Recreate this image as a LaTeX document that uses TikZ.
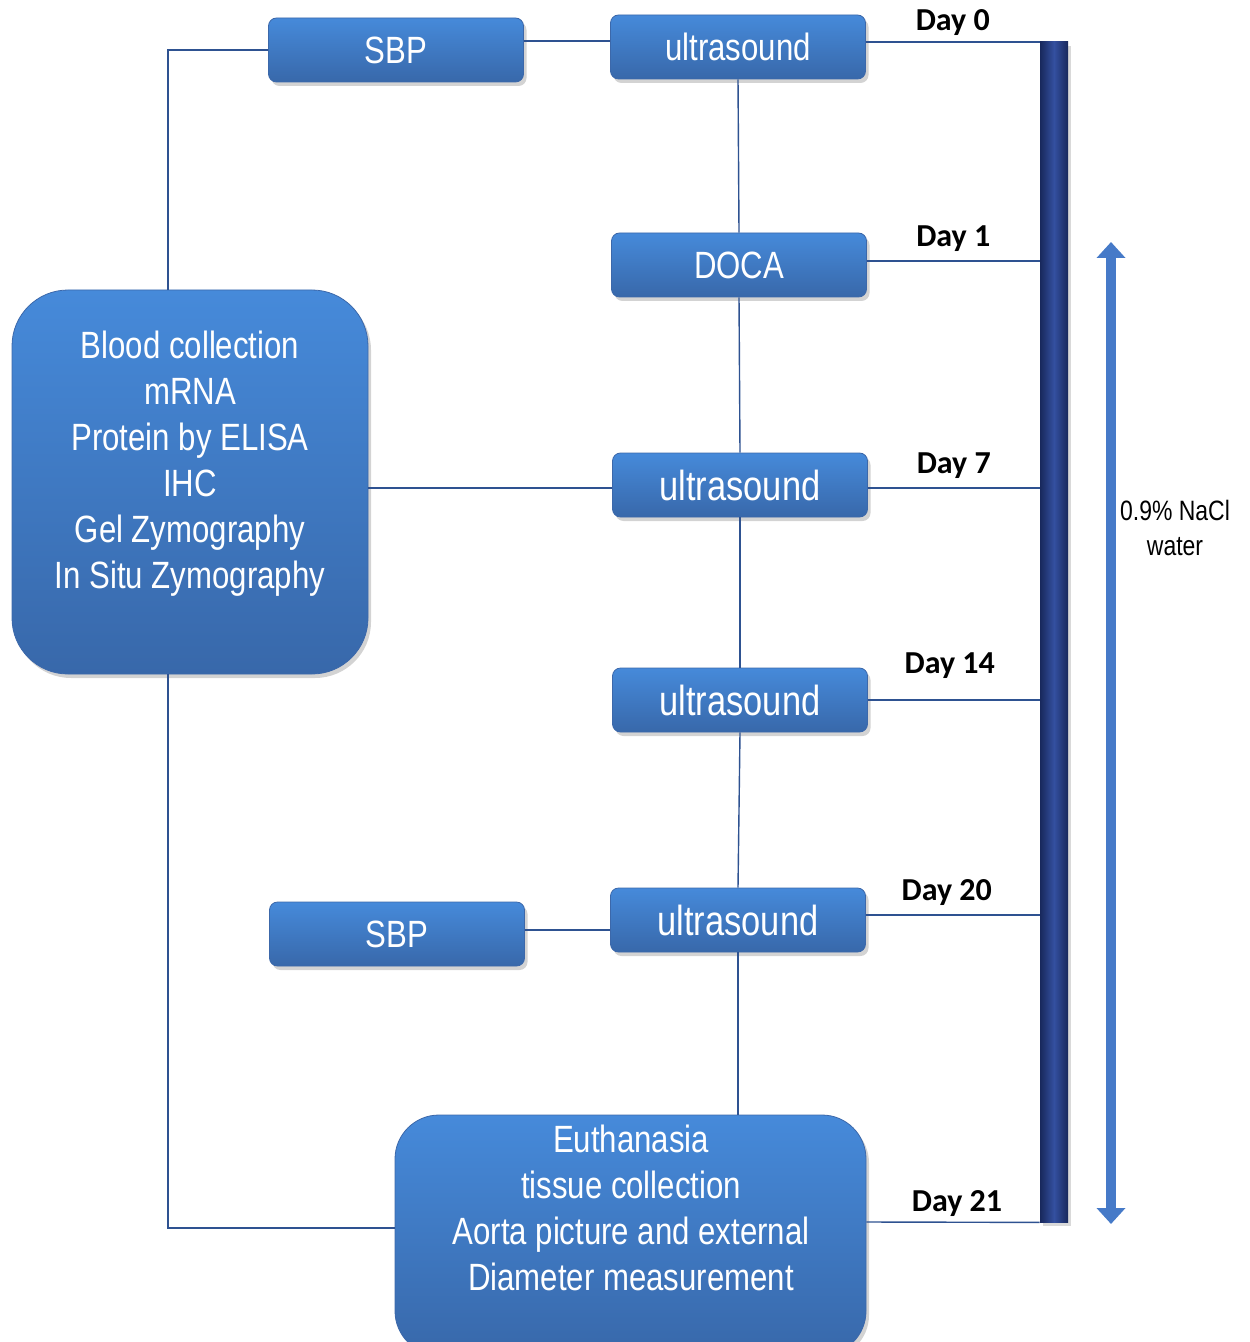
\documentclass[tikz,border=0pt]{standalone}
\usepackage{fontspec}
\setmainfont{Liberation Sans}
\newfontfamily\narrowfont[FakeStretch=0.82]{Liberation Sans}
\newfontfamily\dayfont{Carlito}
\usetikzlibrary{shapes.misc,shadows,arrows.meta}
\definecolor{boxtop}{RGB}{70,138,218}
\definecolor{boxbottom}{RGB}{56,104,170}
\definecolor{boxedge}{RGB}{60,104,170}
\definecolor{linkblue}{RGB}{46,82,145}
\definecolor{bardark}{RGB}{24,40,92}
\definecolor{barlight}{RGB}{52,80,160}
\definecolor{arrowblue}{RGB}{70,122,200}
\tikzset{
  stage/.style={
    % The shape:
    rectangle,rounded corners=4pt,
    % The size:
    minimum width=127.5pt,minimum height=32pt,
    % The border:
    draw=boxedge,thin,
    % The filling:
    top color=boxtop,bottom color=boxbottom,
    drop shadow={shadow xshift=1.5pt,shadow yshift=-2pt,opacity=.35},
    % The text:
    text=white,font=\narrowfont\fontsize{19}{23}\selectfont}}
\tikzset{
  bigstage/.style={
    % Same look, bigger corners
    stage,rounded corners=28pt},
  boxtext/.style={
    text=white,align=center,font=\narrowfont\fontsize{19}{23}\selectfont},
  link/.style={draw=linkblue,line width=.7pt},
  daylabel/.style={font=\dayfont\bfseries\fontsize{16}{18}\selectfont,above=1pt},
  salinebar/.style={
    rectangle,minimum width=14pt,minimum height=590pt,inner sep=0pt,
    left color=bardark,right color=bardark,middle color=barlight,
    drop shadow={shadow xshift=1.5pt,shadow yshift=-2pt,opacity=.3}}}

\begin{document}
\begin{tikzpicture}[x=0.5pt,y=-0.5pt]
	\useasboundingbox (0,0) rectangle (1249,1342);
	% The saline bar and its arrow
	\node[salinebar] (bar) at (1054,632) {};
	\coordinate (arrtop) at (1111,242);
	\coordinate (arrbot) at (1111,1224);
	\draw[arrowblue,line width=5pt,{Triangle[width=14pt,length=8pt]}-{Triangle[width=14pt,length=8pt]}] (arrtop) -- (arrbot);
	\node[align=center,font=\narrowfont\fontsize{14}{17.5}\selectfont] (nacl) at (1175,528) {0.9\% NaCl\\water};
	% The stages
	\node[stage] (sbp0) at (396,50) {SBP};
	\node[stage] (us0) at (738,47) {ultrasound};
	\node[stage] (doca) at (739,265) {DOCA};
	\node[stage,font=\narrowfont\fontsize{21}{24}\selectfont] (us7) at (740,485) {ultrasound};
	\node[stage,font=\narrowfont\fontsize{21}{24}\selectfont] (us14) at (740,700) {ultrasound};
	\node[stage,font=\narrowfont\fontsize{21}{24}\selectfont] (us20) at (738,920) {ultrasound};
	\node[stage] (sbp20) at (397,934) {SBP};
	\node[bigstage,minimum width=178pt,minimum height=192pt] (blood) at (190,482) {};
	\node[boxtext] (bloodtext) at ([yshift=9pt]blood.center)
		{Blood collection\\mRNA\\Protein by ELISA\\IHC\\Gel Zymography\\In Situ Zymography};
	\node[bigstage,rounded corners=22pt,minimum width=235.5pt,minimum height=120pt] (euth) at (630.5,1235) {};
	\node[boxtext] (euthtext) at (631,1208)
		{Euthanasia\\tissue collection\\Aorta picture and external\\Diameter measurement};
	% Lines down the time line
	\draw[link] (us0.south) -- (doca.north);
	\draw[link] (doca.south) -- (us7.north);
	\draw[link] (us7.south) -- (us14.north);
	\draw[link] (us14.south) -- (us20.north);
	\draw[link] (us20.south) -- (us20.south |- euth.north);
	% Lines out to the bar
	\draw[link] ([yshift=2.5pt]us0.east) -- ([yshift=2.5pt]us0.east -| bar.west) node[daylabel,midway,yshift=-1.5pt] {Day 0};
	\draw[link] ([yshift=2pt]doca.east) -- ([yshift=2pt]doca.east -| bar.west) node[daylabel,midway] {Day 1};
	\draw[link] ([yshift=-1.5pt]us7.east) -- ([yshift=-1.5pt]us7.east -| bar.west) node[daylabel,midway] {Day 7};
	\draw[link] (us14.east) -- (us14.east -| bar.west) node[daylabel,midway,xshift=-2pt,yshift=6pt] {Day 14};
	\draw[link] ([yshift=2.5pt]us20.east) -- ([yshift=2.5pt]us20.east -| bar.west) node[daylabel,midway,xshift=-3pt] {Day 20};
	\draw[link] (euth.east |- 0,1222) -- (bar.south west) node[daylabel,midway,xshift=2pt,yshift=-2pt] {Day 21};
	% Lines out of the left boxes
	\draw[link] ([yshift=4.5pt]sbp0.east) -- ([yshift=4.5pt]sbp0.east -| us0.west);
	\draw[link] ([yshift=2pt]sbp20.east) -- ([yshift=2pt]sbp20.east -| us20.west);
	\draw[link] ([yshift=-3pt]blood.east) -- ([yshift=-3pt]blood.east -| us7.west);
	\draw[link] (sbp0.west) -| ([xshift=-11pt]blood.north);
	\draw[link] ([xshift=-11pt]blood.south) |- (euth.west |- 0,1228);
\end{tikzpicture}
\end{document}
